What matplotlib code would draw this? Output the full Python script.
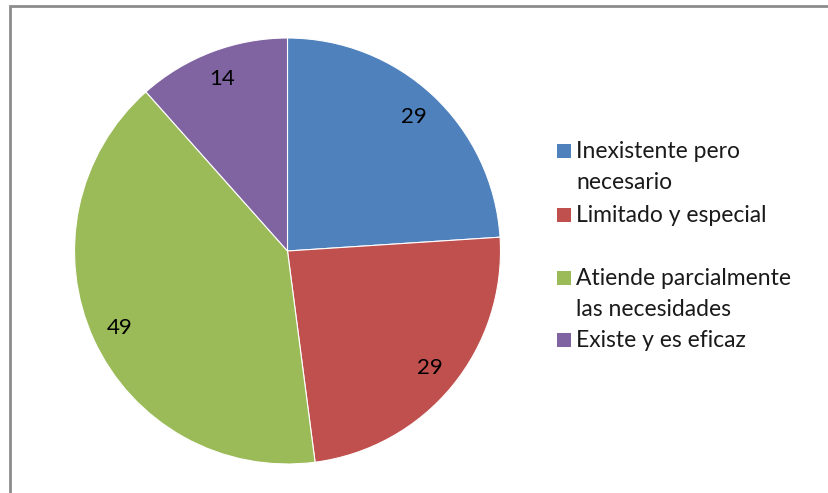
import matplotlib.pyplot as plt
from matplotlib.patches import Rectangle

# data
categories = ["Inexistente pero\nnecesario", "Limitado y especial",
              "Atiende parcialmente\nlas necesidades", "Existe y es eficaz"]
values = [29, 29, 49, 14]
colors = ["#4F81BD", "#C0504D", "#9BBB59", "#8064A2"]

# legend layout (figure pixels, y from top), Excel-like uneven spacing
legend_y = [151, 215, 278, 340]
W, H = 829, 493
FONT = ["Lato", "DejaVu Sans"]

fig = plt.figure(figsize=(W / 100, H / 100), dpi=100)
fig.patch.set_facecolor("white")

# outer chart frame (only left and top edges visible)
fig.patches.append(Rectangle((10 / W, -0.1), 1.2, 1 - 6 / H + 0.1,
                             transform=fig.transFigure, fill=False,
                             edgecolor="#8c8c8c", linewidth=2))

cx, cy, r = 287.5, 251, 213
ax = fig.add_axes([(cx - r) / W, (H - cy - r) / H, 2 * r / W, 2 * r / H])
wedges, texts = ax.pie(values, colors=colors, startangle=90, counterclock=False,
                       labels=[str(v) for v in values], labeldistance=0.865,
                       wedgeprops=dict(edgecolor="white", linewidth=0.8),
                       textprops=dict(fontsize=16, family=FONT, color="#000000"))
for t in texts:
    t.set_horizontalalignment("center")
    t.set_verticalalignment("center")
ax.set_xlim(-1, 1)
ax.set_ylim(-1, 1)
ax.set_aspect("equal")
ax.axis("off")

for lab, col, y in zip(categories, colors, legend_y):
    fig.patches.append(Rectangle((557 / W, 1 - (y + 7) / H), 14 / W, 14 / H,
                                 transform=fig.transFigure, facecolor=col,
                                 edgecolor="none"))
    fig.text(576 / W, 1 - (y - 10) / H, lab, ha="left", va="top",
             fontsize=16.5, family=FONT, color="#1a1a1a", linespacing=1.6)

fig.savefig("out.png", dpi=100)
